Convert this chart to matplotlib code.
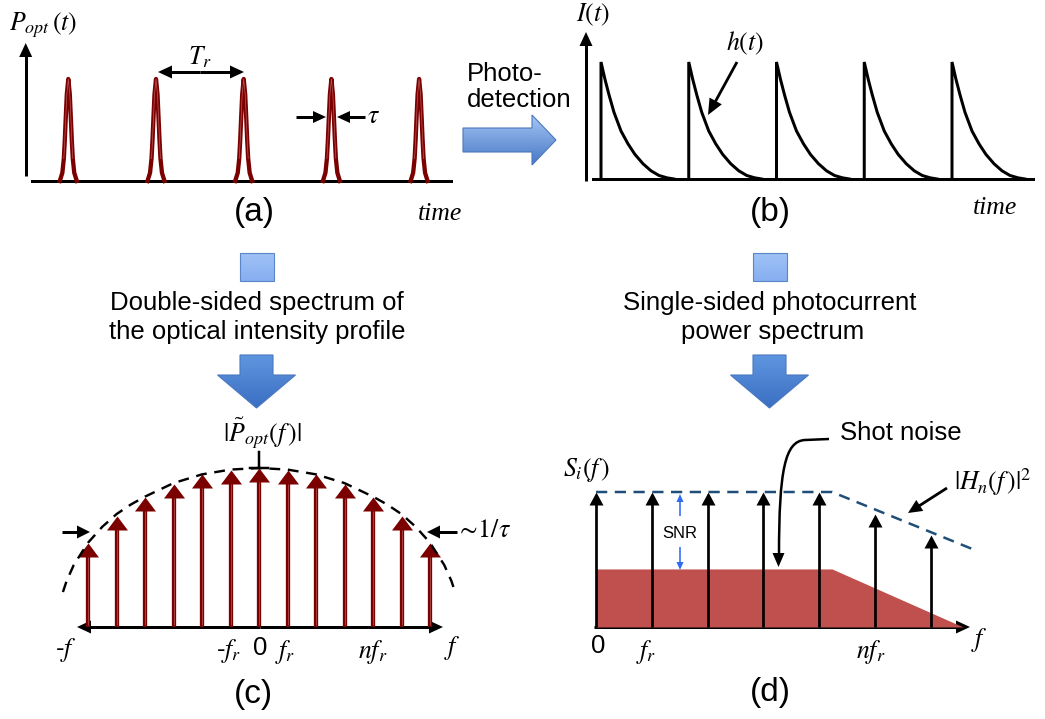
import numpy as np
import matplotlib
matplotlib.use("Agg")
import matplotlib.pyplot as plt
from matplotlib.patches import Polygon, PathPatch
from matplotlib.path import Path
from matplotlib.colors import LinearSegmentedColormap

# ---------------- data ----------------
# (a) optical pulse train: pulse times in units of T_r, peak amplitude
pulse_times = [0, 1, 2, 3, 4]
pulse_amps = [1.0, 1.0, 1.0, 1.0, 1.0]
# pulse profile (offset in T_r units, normalised height)
pulse_dt = [-0.097, -0.068, -0.051, -0.040, -0.029, -0.017, 0.0,
            0.017, 0.029, 0.040, 0.051, 0.068, 0.097]
pulse_h = [0.0, 0.08, 0.22, 0.40, 0.62, 0.85, 1.0,
           0.85, 0.62, 0.40, 0.22, 0.08, 0.0]

# (b) photocurrent: impulse response start times (T_r units) and decay profile
spike_times = [0, 1, 2, 3, 4]
decay_dt = [0.0, 0.0, 0.046, 0.091, 0.148, 0.228, 0.308, 0.387,
            0.479, 0.570, 0.661, 0.752, 0.832]
decay_h = [0.0, 1.0, 0.85, 0.72, 0.57, 0.41, 0.30, 0.21,
           0.13, 0.07, 0.03, 0.01, 0.0]

# (c) double-sided spectrum: harmonic index and amplitude
harm_n = [-6, -5, -4, -3, -2, -1, 0, 1, 2, 3, 4, 5, 6]
harm_amp = [0.53, 0.70, 0.82, 0.90, 0.96, 0.99, 1.0,
            0.99, 0.96, 0.90, 0.82, 0.70, 0.53]
env_n = [-6.88, -6.75, -6.5, -6.0, -5.5, -5.0, -4.5, -4.0, -3.0, -2.0, -1.0, 0.0,
         1.0, 2.0, 3.0, 4.0, 4.5, 5.0, 5.5, 6.0, 6.5, 6.75, 6.88]
env_amp = [0.22, 0.29, 0.39, 0.53, 0.63, 0.71, 0.77, 0.82, 0.905, 0.96, 0.99, 1.0,
           0.99, 0.96, 0.905, 0.82, 0.77, 0.71, 0.63, 0.53, 0.39, 0.29, 0.22]

# (d) single-sided power spectrum
psd_k = [0, 1, 2, 3, 4, 5, 6]
psd_amp = [1.0, 1.0, 1.0, 1.0, 1.0, 0.84, 0.68]
hn_k = [0.0, 4.23, 6.79]
hn_amp = [1.0, 1.0, 0.57]
noise_k = [0.0, 4.23, 6.58]
noise_amp = [0.43, 0.43, 0.0]

# ---------------- figure ----------------
W, H = 1045, 719
plt.rcParams['font.family'] = ['Liberation Sans', 'DejaVu Sans']
plt.rcParams['mathtext.fontset'] = 'stix'
fig = plt.figure(figsize=(W / 100, H / 100), dpi=100)
bg = fig.add_axes([0, 0, 1, 1])
bg.set_axis_off()
bg.set_autoscale_on(False)
bg.set_xlim(0, W)
bg.set_ylim(H, 0)

PX = 0.72  # px -> pt
DARKRED = '#7b0000'
FS = 18.5


def panel(box, ox, sx, oy, sy):
    l, t, r, b = box
    ax = fig.add_axes([l / W, 1 - b / H, (r - l) / W, (b - t) / H])
    ax.set_xlim((l - ox) / sx, (r - ox) / sx)
    ax.set_ylim((oy - b) / sy, (oy - t) / sy)
    ax.set_axis_off()
    ax.patch.set_alpha(0)
    return ax


def head_marker(w, l):
    verts = [(-w / 2, -l), (w / 2, -l), (0, 0), (-w / 2, -l)]
    m = Path(verts, [Path.MOVETO, Path.LINETO, Path.LINETO, Path.CLOSEPOLY])
    ms = 1.44 * max(w / 2, l)
    return m, ms


def arrow(x0, y0, x1, y1, lw=3, hw=13, hl=13, color='black', z=5):
    dx, dy = x1 - x0, y1 - y0
    L = np.hypot(dx, dy)
    ux, uy = dx / L, dy / L
    bx, by = x1 - ux * hl, y1 - uy * hl
    bg.plot([x0, bx + ux * 2], [y0, by + uy * 2], color=color, lw=lw * PX,
            solid_capstyle='butt', zorder=z)
    px, py = -uy, ux
    tri = [(x1, y1), (bx + px * hw / 2, by + py * hw / 2), (bx - px * hw / 2, by - py * hw / 2)]
    bg.add_patch(Polygon(tri, closed=True, facecolor=color, edgecolor='none', zorder=z))


def grad_poly(verts, c_top, c_bot, edge):
    poly = Polygon(verts, closed=True, facecolor='none', edgecolor=edge, lw=0.8, zorder=3)
    bg.add_patch(poly)
    xs, ys = zip(*verts)
    cmap = LinearSegmentedColormap.from_list('g', [c_top, c_bot])
    grad = np.linspace(0, 1, 256).reshape(-1, 1)
    im = bg.imshow(grad, cmap=cmap, extent=(min(xs), max(xs), max(ys), min(ys)),
                   aspect='auto', zorder=2, interpolation='bilinear')
    im.set_clip_path(poly)


def label(x, y, s, fs=FS, ha='center', va='center', **kw):
    bg.text(x, y, s, fontsize=fs, ha=ha, va=va, zorder=6, **kw)


# ---------------- panel (a) ----------------
axa = panel((0, 30, 470, 200), 68.3, 87.7, 181, 102)
for t0, a0 in zip(pulse_times, pulse_amps):
    xs = [t0 + d for d in pulse_dt]
    ys = [a0 * h for h in pulse_h]
    axa.plot(xs, ys, color=DARKRED, lw=4.3 * PX, solid_joinstyle='round', zorder=3)
    axa.plot(xs[2:-2], ys[2:-2], color='#b85a5a', lw=0.5, zorder=4)
arrow(25.7, 176, 25.7, 43, lw=3, hw=13, hl=14)
bg.plot([32, 451], [181, 181], color='black', lw=3 * PX, zorder=4)
arrow(200, 72, 158, 72, lw=3, hw=13, hl=14)
arrow(200, 72, 244, 72, lw=3, hw=13, hl=14)
arrow(296, 117, 326, 117, lw=3, hw=12, hl=13)
arrow(365, 117, 337, 117, lw=3, hw=12, hl=13)
label(9, 25, r'$P_{opt}\,(t)$', ha='left')
label(200, 57, r'$T_r$')
label(373, 116, r'$\tau$')
label(254, 213, '(a)', fs=24)
label(440, 214, 'time', family='Liberation Serif', style='italic')

# ---------------- panel (b) ----------------
axb = panel((570, 25, 1045, 200), 601, 87.75, 179, 117)
for t0 in spike_times:
    axb.plot([t0 + d for d in decay_dt], decay_h, color='black', lw=3 * PX,
             solid_joinstyle='miter', zorder=3)
arrow(586, 181, 586, 32, lw=3, hw=13, hl=14)
bg.plot([593, 1033], [179, 179], color='black', lw=3 * PX, zorder=4)
arrow(737, 62, 708, 115, lw=2.8, hw=14, hl=16)
label(593, 15, r'$I(t)$')
label(745, 43, r'$h(t)$')
label(770, 213, '(b)', fs=24)
label(995, 208, 'time', family='Liberation Serif', style='italic')

# photodetection arrow & text
label(467, 74, 'Photo-', ha='left')
label(467, 100, 'detection', ha='left')
grad_poly([(463, 128), (532, 128), (532, 115), (556, 140), (532, 165), (532, 152), (463, 152)],
          '#a6c6f4', '#4777c6', '#4a78c0')

# ---------------- middle flow ----------------
for cx in (256.5, 769.5):
    grad_poly([(cx - 17, 253), (cx + 17, 253), (cx + 17, 281), (cx - 17, 281)],
              '#a0c2f6', '#86aef0', '#5a85c7')
    grad_poly([(cx - 16.5, 355), (cx + 16.5, 355), (cx + 16.5, 375), (cx + 39, 375),
               (cx, 408), (cx - 39, 375), (cx - 16.5, 375)],
              '#5f96e0', '#3a6ec2', '#4a78c0')
label(257, 303, 'Double-sided spectrum of')
label(257, 332, 'the optical intensity profile')
label(770, 303, 'Single-sided photocurrent')
label(773, 332, 'power spectrum')

# ---------------- panel (c) ----------------
axc = panel((40, 430, 480, 640), 259, 28.5, 627, 159)
mk, ms = head_marker(21, 14)
axc.vlines(harm_n, 0, [a - 9 / 159 for a in harm_amp], color=DARKRED, lw=4.3 * PX, zorder=3)
axc.vlines(harm_n, 0.01, [a - 12 / 159 for a in harm_amp], color='#b85a5a', lw=0.5, zorder=4)
axc.plot(harm_n, harm_amp, ls='none', marker=mk, ms=ms, color=DARKRED, mew=0, zorder=4)
axc.plot(env_n, env_amp, color='black', lw=2.4 * PX, ls=(0, (4.5, 3.2)), zorder=5)
arrow(260, 627, 77, 627, lw=3, hw=13, hl=14)
arrow(260, 627, 443, 627, lw=3, hw=13, hl=14)
bg.plot([259, 259], [452, 468], color='black', lw=2.5 * PX, zorder=6)
bg.plot([250, 268], [468, 468], color='black', lw=2.5 * PX, zorder=6)
arrow(62, 532, 90, 532, lw=3, hw=13, hl=13)
arrow(457, 532, 427, 532, lw=3, hw=13, hl=13)
label(262, 433, r'$|\tilde{P}_{opt}(f\,)|$')
label(456, 530, r'$\sim\!1/\tau$', ha='left')
label(66, 650, r'-$f$')
label(229, 651, r'-$f_r$')
label(260, 648, '0')
label(285, 652, r'$f_r$')
label(373, 652, r'$nf_r$')
label(452, 648, r'$f$')
label(253, 695, '(c)', fs=24)

# ---------------- panel (d) ----------------
axd = panel((560, 440, 1045, 640), 596, 55.8, 627, 135)
axd.fill_between(noise_k, 0, noise_amp, color='#c0504d', lw=0, zorder=2)
mk2, ms2 = head_marker(14, 13)
axd.vlines(psd_k, 0, [a - 9 / 135 for a in psd_amp], color='black', lw=2.7 * PX, zorder=3)
axd.plot(psd_k, psd_amp, ls='none', marker=mk2, ms=ms2, color='black', mew=0, zorder=4)
axd.plot(hn_k, hn_amp, color='#1f4e79', lw=2.5 * PX, ls=(0, (4.5, 3.0)), zorder=5)
arrow(594, 627, 970, 627, lw=3, hw=13, hl=14)
# SNR arrows
arrow(680, 516, 680, 494, lw=1.6, hw=7, hl=8, color='#2f6cf5')
arrow(680, 547, 680, 570, lw=1.6, hw=7, hl=8, color='#2f6cf5')
label(680, 533, 'SNR', fs=12)
# shot noise curved arrow
sn_path = Path([(829, 439), (805, 440), (785, 441), (779, 470), (779, 555)],
               [Path.MOVETO, Path.LINETO, Path.CURVE4, Path.CURVE4, Path.CURVE4])
bg.add_patch(PathPatch(sn_path, facecolor='none', edgecolor='black', lw=2.5 * PX, zorder=6))
bg.add_patch(Polygon([(778.5, 567), (772.5, 553), (784.5, 553)], closed=True,
                     facecolor='black', edgecolor='none', zorder=6))
arrow(947, 488, 908, 513, lw=2.8, hw=13, hl=14)
label(901, 433, 'Shot noise')
label(954, 482, r'$|H_n(f\,)|^2$', ha='left')
label(587, 470, r'$S_i(f\,)$')
label(598, 646, '0')
label(646, 652, r'$f_r$')
label(871, 652, r'$nf_r$')
label(979, 640, r'$f$')
label(770, 693, '(d)', fs=24)

bg.set_xlim(0, W)
bg.set_ylim(H, 0)
fig.savefig('out.png', dpi=100)
